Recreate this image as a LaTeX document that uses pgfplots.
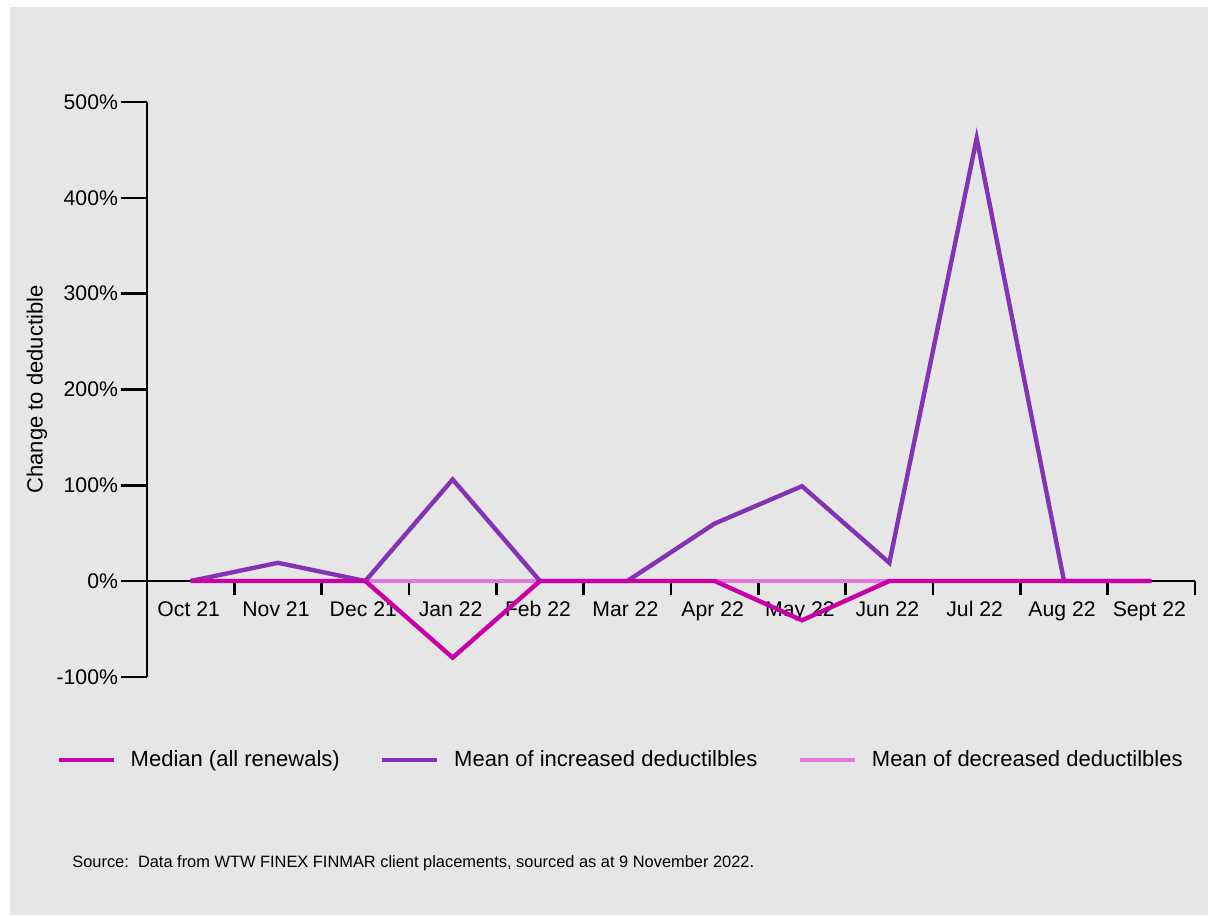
\documentclass[border=0pt]{standalone}
\usepackage{pgfplots}
\pgfplotsset{compat=1.18}
\usepackage{fontspec}
\setmainfont{Liberation Sans}
\definecolor{bg}{HTML}{E6E6E6}
\definecolor{medc}{HTML}{C800A8}
\definecolor{incc}{HTML}{8533B5}
\definecolor{decc}{HTML}{E377DA}
\begin{document}
\begin{tikzpicture}
\useasboundingbox (0,0) rectangle (604pt,-457.5pt);
\fill[white] (0,0) rectangle (604pt,-457.5pt);
\fill[bg] (5pt,-3.5pt) rectangle (604pt,-457.5pt);
\begin{axis}[
  at={(73.5pt,-338.4pt)}, anchor=south west,
  scale only axis, width=524pt, height=287.4pt,
  xmin=-0.5, xmax=11.5, ymin=-100, ymax=500,
  axis x line=middle, axis y line=left,
  axis line style={line width=1.3pt, -},
  xtick={0,...,11},
  xticklabels={Oct 21,Nov 21,Dec 21,Jan 22,Feb 22,Mar 22,Apr 22,May 22,Jun 22,Jul 22,Aug 22,Sept 22},
  minor xtick={0.5,1.5,...,11.5},
  major x tick style={draw=none},
  minor x tick style={line width=1.3pt, black},
  xtick align=outside,
  minor tick length=7pt,
  ytick={-100,0,100,200,300,400,500},
  yticklabels={-100\%,0\%,100\%,200\%,300\%,400\%,500\%},
  ytick align=outside,
  major tick length=13pt,
  y tick style={line width=1.3pt, black},
  tick label style={font=\fontsize{10.6}{12}\selectfont, text=black},
  xticklabel style={yshift=7pt, xshift=-1pt, text height=8pt, text depth=2pt},
  yticklabel style={xshift=2pt},
  ylabel={Change to deductible},
  every axis y label/.style={at={(axis description cs:-0.105,0.5)}, anchor=center, rotate=90, font=\fontsize{11}{13}\selectfont},
  reverse legend,
  legend columns=3,
  legend style={at={(-0.0926,-0.1447)}, anchor=west, draw=none, fill=none,
    font=\fontsize{11}{13}\selectfont,
    /tikz/every odd column/.append style={column sep=5.5pt},
    /tikz/every even column/.append style={column sep=18pt}},
  legend image code/.code={\draw[#1] (0pt,0pt) -- (27.5pt,0pt);},
  clip=false,
]
\addplot[decc, line width=2.2pt] coordinates {(0,0)(1,0)(2,0)(3,0)(4,0)(5,0)(6,0)(7,0)(8,0)(9,0)(10,0)(11,0)};
\addlegendentry{Mean of decreased deductilbles}
\addplot[incc, line width=2.2pt] coordinates {(0,0)(1,19)(2,0)(3,106)(4,0)(5,0)(6,60)(7,99)(8,19)(9,462)(10,0)(11,0)};
\addlegendentry{Mean of increased deductilbles}
\addplot[medc, line width=2.2pt] coordinates {(0,0)(1,0)(2,0)(3,-80)(4,0)(5,0)(6,0)(7,-41)(8,0)(9,0)(10,0)(11,0)};
\addlegendentry{Median (all renewals)}
\end{axis}
\node[anchor=west, font=\fontsize{8.2}{10}\selectfont, inner sep=0pt] at (36pt,-431.5pt) {Source:\ \ Data from WTW FINEX FINMAR client placements, sourced as at 9 November 2022.};
\end{tikzpicture}
\end{document}
